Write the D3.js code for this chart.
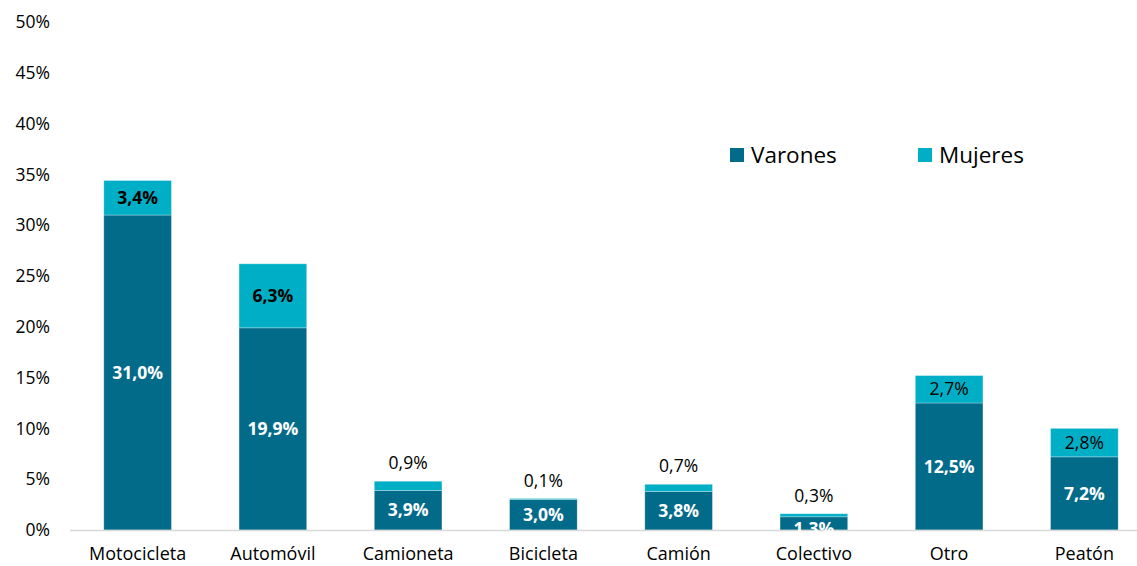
<!DOCTYPE html>
<html>
<head>
<meta charset="utf-8">
<script src="https://cdn.jsdelivr.net/npm/d3@7"></script>
<style>
  body { margin: 0; background: #fff; }
  svg text { font-family: "Open Sans", sans-serif; }
</style>
</head>
<body>
<div id="chart"></div>
<script>

// data
var categories = ["Motocicleta", "Automóvil", "Camioneta", "Bicicleta", "Camión", "Colectivo", "Otro", "Peatón"];
var varones = [31.0, 19.9, 3.9, 3.0, 3.8, 1.3, 12.5, 7.2];
var mujeres = [3.4, 6.3, 0.9, 0.1, 0.7, 0.3, 2.7, 2.8];
var yTicks = [0, 5, 10, 15, 20, 25, 30, 35, 40, 45, 50];
var seriesNames = ["Varones", "Mujeres"];
var colors = ["#036b8a", "#00afc6"];

var width = 1137, height = 566;
var margin = {top: 22, right: -15, bottom: 36, left: 70};

var svg = d3.select("#chart")
  .append("svg")
    .attr("width", width)
    .attr("height", height);

var x = d3.scaleBand()
  .domain(categories)
  .range([margin.left, width - margin.right])
  .paddingInner(0.5)
  .paddingOuter(0.25);

var y = d3.scaleLinear()
  .domain([0, 50])
  .range([height - margin.bottom, margin.top]);

var fmt = function(v) { return v.toFixed(1).replace(".", ",") + "%"; };

// y axis labels (no line)
svg.append("g")
  .selectAll("text")
  .data(yTicks)
  .enter()
  .append("text")
    .attr("x", 50)
    .attr("y", function(d) { return y(d); })
    .attr("dy", "0.35em")
    .attr("text-anchor", "end")
    .style("font-size", "17.5px")
    .attr("fill", "#000")
    .text(function(d) { return d + "%"; });

// rows for stacking
var rows = categories.map(function(c, i) { return {cat: c, Varones: varones[i], Mujeres: mujeres[i]}; });
var stack = d3.stack().keys(seriesNames)(rows);

svg.selectAll("g.series")
  .data(stack)
  .enter()
  .append("g")
    .attr("class", "series")
    .attr("fill", function(d, i) { return colors[i]; })
  .selectAll("rect")
  .data(function(d) { return d; })
  .enter()
  .append("rect")
    .attr("x", function(d) { return x(d.data.cat); })
    .attr("width", x.bandwidth())
    .attr("y", function(d) { return y(d[1]); })
    .attr("height", function(d) { return y(d[0]) - y(d[1]); })
    .attr("stroke", "rgba(255,255,255,0.35)")
    .attr("stroke-width", 0.8);

// x axis line
svg.append("line")
  .attr("x1", margin.left)
  .attr("x2", width)
  .attr("y1", y(0) + 0.5)
  .attr("y2", y(0) + 0.5)
  .attr("stroke", "#d9d9d9")
  .attr("stroke-width", 1.5);

// category labels
svg.append("g")
  .selectAll("text")
  .data(categories)
  .enter()
  .append("text")
    .attr("x", function(d) { return x(d) + x.bandwidth() / 2; })
    .attr("y", y(0) + 30)
    .attr("text-anchor", "middle")
    .style("font-size", "18px")
    .attr("fill", "#000")
    .text(function(d) { return d; });

// varones labels: white bold, in middle of segment (sits low on a very short bar)
svg.append("g")
  .selectAll("text")
  .data(stack[0])
  .enter()
  .append("text")
    .attr("x", function(d) { return x(d.data.cat) + x.bandwidth() / 2; })
    .attr("y", function(d) {
      if (d.data.Varones < 2) return y(0) - 1;
      return y((d[0] + d[1]) / 2);
    })
    .attr("dy", "0.35em")
    .attr("text-anchor", "middle")
    .style("font-size", "17.5px")
    .style("font-weight", "bold")
    .attr("fill", "#fff")
    .text(function(d) { return fmt(d.data.Varones); });

// mujeres labels: inside when segment is tall, above the bar otherwise
svg.append("g")
  .selectAll("text")
  .data(stack[1])
  .enter()
  .append("text")
    .attr("x", function(d) { return x(d.data.cat) + x.bandwidth() / 2; })
    .attr("y", function(d) {
      if (d.data.Mujeres >= 2) return y((d[0] + d[1]) / 2);
      return y(d[1]) - 18;
    })
    .attr("dy", "0.35em")
    .attr("text-anchor", "middle")
    .style("font-size", "17.5px")
    .style("font-weight", function(d) { return d.data.Mujeres >= 3 ? "bold" : "normal"; })
    .attr("fill", "#000")
    .text(function(d) { return fmt(d.data.Mujeres); });

// legend
var legend = svg.append("g")
  .selectAll("g")
  .data(seriesNames)
  .enter()
  .append("g")
    .attr("transform", function(d, i) { return "translate(" + (730 + i * 188) + ",148)"; });
legend.append("rect")
  .attr("width", 14)
  .attr("height", 14)
  .attr("fill", function(d, i) { return colors[i]; });
legend.append("text")
  .attr("x", 21)
  .attr("y", 7)
  .attr("dy", "0.35em")
  .style("font-size", "22.5px")
  .attr("fill", "#000")
  .text(function(d) { return d; });

</script>
</body>
</html>
